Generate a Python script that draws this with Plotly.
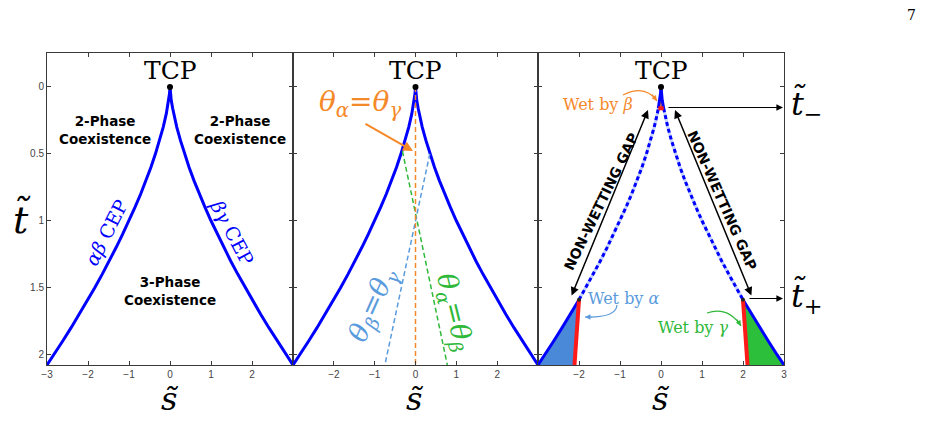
import plotly.graph_objects as go

# ---------------- data ----------------
t_cep = [0, 0.05, 0.1, 0.16, 0.2, 0.3, 0.4, 0.5, 0.6, 0.7, 0.8, 0.9, 1.0,
         1.1, 1.2, 1.3, 1.4, 1.5, 1.59, 1.7, 1.8, 1.9, 2.0, 2.077]
s_cep = [0, 0.012, 0.03, 0.065, 0.09, 0.165, 0.255, 0.355, 0.465, 0.585, 0.715,
         0.855, 1.0, 1.155, 1.315, 1.48, 1.655, 1.835, 2.0, 2.215, 2.415, 2.62, 2.83, 3.0]
t_minus = 0.16
t_plus = 1.59
t_bottom = 2.077
t_top = -0.253

# panel 2 equal-contact-angle lines
orange_s, orange_t = [0, 0], [0, 2.077]
green_s, green_t = [-0.32, 0.78], [0.48, 2.077]
lblue_s, lblue_t = [0.35, -0.75], [0.5, 2.077]

# panel 3 wetting-transition lines
red_left_s, red_right_s, red_t = [-2.0, -2.11], [2.0, 2.11], [1.59, 2.077]
red_top_s, red_top_t = [-0.065, 0.065], [0.16, 0.16]

x_ticks = [[-3, -2, -1, 0, 1, 2], [-2, -1, 0, 1, 2], [-2, -1, 0, 1, 2, 3]]
y_ticks = [0, 0.5, 1, 1.5, 2]
y_ticktext = ["0", "0.5", "1", "1.5", "2"]

BLUE = "#0000ff"
ORANGE = "#f5892a"
GREEN = "#2fb83a"
LBLUE = "#5a9bdc"
FILL_BLUE = "#4a89d8"
FILL_GREEN = "#2cbf3c"
RED = "#ff1a1a"


def branch(lo, hi):
    """both branches for lo<=t<=hi: left (bottom->top) and right (top->bottom)"""
    idx = [i for i, t in enumerate(t_cep) if lo - 1e-9 <= t <= hi + 1e-9]
    ls = [-s_cep[i] for i in reversed(idx)]
    lt = [t_cep[i] for i in reversed(idx)]
    rs = [s_cep[i] for i in idx]
    rt = [t_cep[i] for i in idx]
    return ls, lt, rs, rt


fig = go.Figure()
XA = ["x", "x2", "x3"]
YA = ["y", "y2", "y3"]

for k in range(3):
    xa, ya = XA[k], YA[k]
    if k < 2:
        ls, lt, rs, rt = branch(0, t_bottom)
        fig.add_trace(go.Scatter(x=ls + rs[1:], y=lt + rt[1:], mode="lines",
                                 line=dict(color=BLUE, width=3), xaxis=xa, yaxis=ya,
                                 hoverinfo="skip", cliponaxis=False))
    else:
        # fills
        ls, lt, rs, rt = branch(t_plus, t_bottom)
        fig.add_trace(go.Scatter(x=ls + [red_left_s[1]], y=lt + [red_t[1]],
                                 fill="toself", fillcolor=FILL_BLUE, mode="none",
                                 xaxis=xa, yaxis=ya, hoverinfo="skip"))
        fig.add_trace(go.Scatter(x=rs + [red_right_s[1]], y=rt + [red_t[1]],
                                 fill="toself", fillcolor=FILL_GREEN, mode="none",
                                 xaxis=xa, yaxis=ya, hoverinfo="skip"))
        ls, lt, rs, rt = branch(0, t_minus)
        fig.add_trace(go.Scatter(x=ls + rs[1:], y=lt + rt[1:], fill="toself",
                                 fillcolor=ORANGE, mode="none", xaxis=xa, yaxis=ya,
                                 hoverinfo="skip"))
        # dashed (non-wetting gap) parts
        ls, lt, rs, rt = branch(t_minus, t_plus)
        for ss, tt in [(ls, lt), (rs, rt)]:
            fig.add_trace(go.Scatter(x=ss, y=tt, mode="lines",
                                     line=dict(color="#c4d2ff", width=3),
                                     xaxis=xa, yaxis=ya, hoverinfo="skip"))
            fig.add_trace(go.Scatter(x=ss, y=tt, mode="lines",
                                     line=dict(color=BLUE, width=3, dash="4px,3px"),
                                     xaxis=xa, yaxis=ya, hoverinfo="skip"))
        # solid parts
        for lo, hi in [(0, t_minus), (t_plus, t_bottom)]:
            ls, lt, rs, rt = branch(lo, hi)
            for ss, tt in [(ls, lt), (rs, rt)]:
                fig.add_trace(go.Scatter(x=ss, y=tt, mode="lines",
                                         line=dict(color=BLUE, width=3),
                                         xaxis=xa, yaxis=ya, hoverinfo="skip",
                                         cliponaxis=False))
        # red transition lines
        for ss, tt in [(red_left_s, red_t), (red_right_s, red_t), (red_top_s, red_top_t)]:
            fig.add_trace(go.Scatter(x=ss, y=tt, mode="lines",
                                     line=dict(color=RED, width=4),
                                     xaxis=xa, yaxis=ya, hoverinfo="skip"))
        # small black endpoints
        fig.add_trace(go.Scatter(x=[-s_cep[18], s_cep[18]], y=[t_plus, t_plus],
                                 mode="markers", marker=dict(color="#222", size=4),
                                 xaxis=xa, yaxis=ya, hoverinfo="skip"))
    if k == 1:
        for ss, tt, c in [(green_s, green_t, GREEN), (lblue_s, lblue_t, LBLUE),
                          (orange_s, orange_t, ORANGE)]:
            fig.add_trace(go.Scatter(x=ss, y=tt, mode="lines",
                                     line=dict(color=c, width=1.5, dash="5px,3px"),
                                     xaxis=xa, yaxis=ya, hoverinfo="skip"))
    # TCP point
    fig.add_trace(go.Scatter(x=[0], y=[0], mode="markers",
                             marker=dict(color="black", size=6), xaxis=xa, yaxis=ya,
                             hoverinfo="skip", cliponaxis=False))

# ---------------- layout ----------------
L, R, T, B = 47, 143, 53, 75
W, H = 927, 440
PW, PH = W - L - R, H - T - B
d1 = 246 / PW
d2 = 491 / PW

axis_common = dict(showgrid=False, zeroline=False, showline=True, linecolor="#3a3a3a",
                   linewidth=1, mirror="allticks", ticks="inside", ticklen=4,
                   tickcolor="#3a3a3a", tickfont=dict(family="Liberation Sans", size=10,
                                                      color="#444"))
layout = dict(width=W, height=H, margin=dict(l=L, r=R, t=T, b=B),
              plot_bgcolor="white", paper_bgcolor="white", showlegend=False)
doms = [[0, d1], [d1, d2], [d2, 1]]
for k in range(3):
    sx = "" if k == 0 else str(k + 1)
    layout["xaxis" + sx] = dict(axis_common, domain=doms[k], range=[-3, 3],
                                tickvals=x_ticks[k], anchor="y" + sx)
    layout["yaxis" + sx] = dict(axis_common, domain=[0, 1], range=[t_bottom, t_top],
                                tickvals=y_ticks, ticktext=y_ticktext,
                                showticklabels=(k == 0), anchor="x" + sx)
fig.update_layout(**layout)


def P(x, y):
    return (x - L) / PW, (H - B - y) / PH


SERIF = "DejaVu Serif"
SANS = "DejaVu Sans"
ann = []


def text(x, y, s, size, color="black", family=SERIF, angle=0, xanchor="center"):
    px, py = P(x, y)
    ann.append(dict(x=px, y=py, xref="paper", yref="paper", text=s, showarrow=False,
                    font=dict(family=family, size=size, color=color), textangle=angle,
                    xanchor=xanchor, yanchor="middle"))


def arrow(x0, y0, x1, y1, color="black", width=1.3, size=1.0, both=False, head=2):
    px, py = P(x1, y1)
    ann.append(dict(x=px, y=py, xref="paper", yref="paper", ax=x0 - x1, ay=y0 - y1,
                    text="", showarrow=True, arrowcolor=color, arrowwidth=width,
                    arrowsize=size, arrowhead=head, startarrowhead=head,
                    startarrowsize=size, arrowside="end+start" if both else "end"))


for cx in [170, 415, 661]:
    text(cx, 70, "TCP", 25)
    text(cx, 399, "<i>s̃</i>", 32)
text(22, 218, "<i>t̃</i>", 38)

text(105, 130, "<b>2-Phase<br>Coexistence</b>", 13.5, family=SANS)
text(240, 130, "<b>2-Phase<br>Coexistence</b>", 13.5, family=SANS)
text(170, 291, "<b>3-Phase<br>Coexistence</b>", 13.5, family=SANS)
text(106, 233, "<i>αβ</i> CEP", 19, color=BLUE, angle=-63)
text(232, 232, "<i>βγ</i> CEP", 19, color=BLUE, angle=62)

text(360, 103, "<i>θ<sub>α</sub></i>=<i>θ<sub>γ</sub></i>", 28, color=ORANGE)
arrow(364, 123, 413, 151, color=ORANGE, width=2, size=1.0)
text(373, 305, "<i>θ<sub>β</sub></i>=<i>θ<sub>γ</sub></i>", 27, color=LBLUE, angle=-66)
text(454, 312, "<i>θ<sub>α</sub></i>=<i>θ<sub>β</sub></i>", 27, color=GREEN, angle=76)

text(598, 104, "Wet by <i>β</i>", 16, color=ORANGE)
text(624, 298, "Wet by <i>α</i>", 16, color=LBLUE)
text(693, 327, "Wet by <i>γ</i>", 16, color=GREEN)

text(601, 202, "<b>NON-WETTING GAP</b>", 14, family=SANS, angle=-64)
text(722, 200, "<b>NON-WETTING GAP</b>", 14, family=SANS, angle=66)
arrow(571, 297, 648, 110, both=True, width=1.5, size=1.1)
arrow(752, 297, 675, 110, both=True, width=1.5, size=1.1)

arrow(667, 107.5, 783, 107.5, width=1.2, size=1.1)
arrow(748, 298.5, 783, 298.5, width=1.2, size=1.1)
text(789, 106, "<i>t̃</i><sub>−</sub>", 32, xanchor="left")
text(789, 297, "<i>t̃</i><sub>+</sub>", 32, xanchor="left")

text(911, 15, "7", 14)

# curved small arrows for "Wet by" labels
curves = [((623, 95), (645, 84), (657, 101), ORANGE, (-6, -8)),
          ((617, 305), (616, 318), (585, 317), LBLUE, (8, 0)),
          ((707, 313), (728, 306), (741, 326), GREEN, (-5, -8))]
shapes = []
for (x0, y0), (cx, cy), (x1, y1), col, (ox, oy) in curves:
    a, b = P(x0, y0)
    c, d = P(cx, cy)
    e, f = P(x1, y1)
    shapes.append(dict(type="path", xref="paper", yref="paper",
                       path=f"M {a},{b} Q {c},{d} {e},{f}",
                       line=dict(color=col, width=1.2)))
    ann.append(dict(x=e, y=f, xref="paper", yref="paper", ax=ox, ay=oy, text="",
                    showarrow=True, arrowcolor=col, arrowwidth=1.2, arrowsize=0.9,
                    arrowhead=2))

fig.update_layout(annotations=ann, shapes=shapes)
fig.write_html("out.html")
